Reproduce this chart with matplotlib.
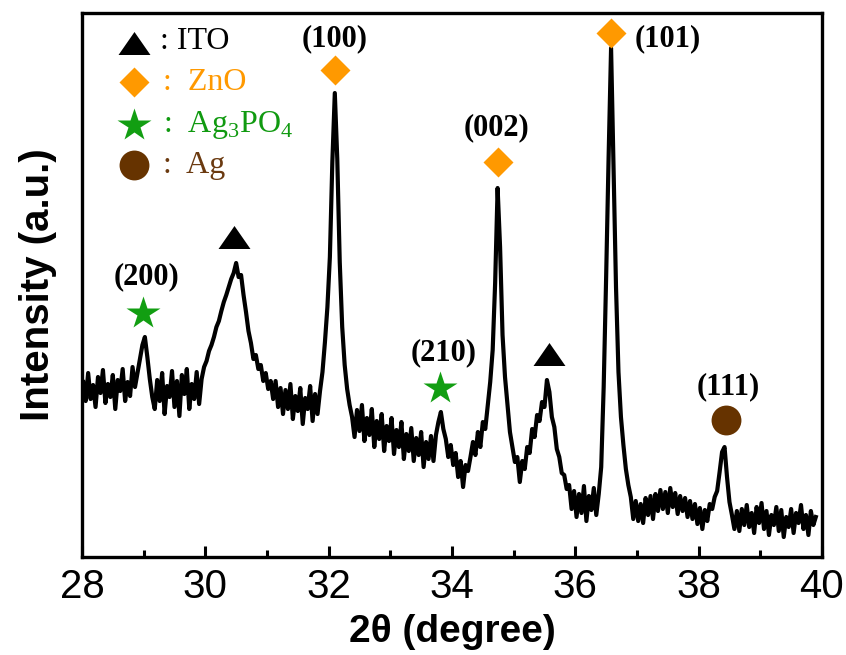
import numpy as np
from matplotlib import pyplot as plt
from matplotlib.ticker import MultipleLocator

"""
    XRD pattern data (read off the figure)
"""
scan_start = 28.02
scan_step = 0.04

intensity = [
    # 28.02 - 28.86
    175, 156, 184, 158, 172, 150, 180, 164, 187, 154, 173, 160, 182, 148, 177, 166, 188, 156, 175, 161, 190, 170,
    # Ag3PO4 (200)
    184, 198, 212, 220, 200, 178, 160,
    # 29.18 - 29.94
    148, 177, 156, 184, 143, 171, 160, 186, 150, 176, 141, 182, 163, 188, 148, 173, 158, 185, 153, 178,
    # ITO ~30.5
    190, 196, 206, 212, 220, 230, 236, 246, 255, 262, 270, 278, 284, 294, 280, 282, 262, 245, 226, 214,
    198, 202, 188, 192, 176, 184, 168, 176,
    # 31.10 - 31.86
    158, 176, 150, 169, 143, 167, 148, 173, 138, 161, 146, 169, 133, 159, 148, 171, 136, 163, 143, 166,
    # ZnO (100)
    185, 215, 250, 300, 395, 464, 398, 295, 230, 192, 168, 152,
    # 32.38 - 33.70
    140, 120, 147, 126, 152, 116, 139, 122, 148, 110, 136, 118, 143, 106, 131, 116, 139, 103, 127, 110,
    135, 98, 123, 106, 129, 96, 119, 102, 125, 90, 115, 98, 121, 96,
    # Ag3PO4 (210), ZnO (002), ITO ~35.5
    122, 135, 145, 128, 118, 100, 112, 92, 104, 80, 96, 70, 92, 86, 100, 115, 102, 125, 110, 135,
    128, 152, 175, 207, 274, 369, 310, 222, 180, 152, 125, 110, 95, 100, 75, 96, 88, 110, 104, 128,
    120, 142, 136, 155, 150, 177, 165, 140, 130, 108, 100, 84, 82, 68, 72,
    # 35.94 - 36.42
    48, 66, 40, 63, 44, 71, 36, 61, 47, 69, 42, 63, 90,
    # ZnO (101)
    170, 280, 400, 509, 390, 270, 185, 140, 112, 88, 72, 60,
    # 36.94 - 38.26
    38, 56, 36, 53, 34, 59, 42, 61, 38, 63, 46, 67, 48, 65, 44, 69, 50, 64, 43, 61,
    46, 59, 40, 56, 38, 53, 33, 49, 28, 47, 36, 53, 48, 60,
    # Ag (111)
    66, 85, 105, 110, 80, 55, 42,
    # 38.58 - 39.90
    28, 46, 26, 48, 32, 52, 30, 44, 24, 50, 34, 54, 28, 46, 22, 42, 32, 50, 26, 47,
    20, 40, 30, 48, 24, 44, 34, 52, 28, 42, 22, 46, 32, 40,
]
two_theta = np.round(scan_start + scan_step * np.arange(len(intensity)), 2)

# phase markers above the peaks: 2theta, height, phase
mark_2theta = [28.99, 30.46, 32.10, 33.80, 34.745, 35.57, 36.58, 38.44]
mark_height = [244, 320, 487, 169, 395, 203, 524, 137]
mark_phase = ['Ag3PO4', 'ITO', 'ZnO', 'Ag3PO4', 'ZnO', 'ITO', 'ZnO', 'Ag']

# Miller indices labels
hkl_text = ['(200)', '(100)', '(210)', '(002)', '(101)', '(111)']
hkl_2theta = [29.04, 32.09, 33.87, 34.73, 37.50, 38.48]
hkl_height = [280, 518, 204, 429, 518, 170]

phase_names = ['ITO', 'ZnO', 'Ag3PO4', 'Ag']
phase_labels = ['ITO', 'ZnO', r'Ag$_{\mathregular{3}}$PO$_{\mathregular{4}}$', 'Ag']
phase_colors = {'ITO': 'black', 'ZnO': '#FF9900', 'Ag3PO4': '#129E12', 'Ag': '#663300'}
text_colors = {'ITO': 'black', 'ZnO': '#FF9900', 'Ag3PO4': '#109A10', 'Ag': '#6B3A10'}
tri = [(-1, -0.72), (1, -0.72), (0, 0.72)]
phase_marker = {'ITO': (tri, 23), 'ZnO': ('D', 15.5), 'Ag3PO4': ('*', 25), 'Ag': ('o', 21.5)}

"""
    Figure
"""
fig = plt.figure(figsize=(8.46, 6.55), dpi=100)
ax = fig.add_axes([0.0969, 0.1496, 0.8747, 0.8305])

ax.plot(two_theta, intensity, color='black', lw=3.0, zorder=2)

for x, h, p in zip(mark_2theta, mark_height, mark_phase):
    m, s = phase_marker[p]
    ax.plot(x, h, marker=m, markersize=s, color=phase_colors[p], mec='none', ls='none', zorder=3)

for t, x, h in zip(hkl_text, hkl_2theta, hkl_height):
    ax.text(x, h, t, family='Liberation Serif', fontweight='bold', fontsize=22,
            ha='center', va='center')

# legend drawn by hand like in the original
leg_y = [514, 475, 432, 392]
for name, lab, y in zip(phase_names, phase_labels, leg_y):
    m, s = phase_marker[name]
    ax.plot(28.84, y, marker=m, markersize=s, color=phase_colors[name], mec='none', ls='none',
            clip_on=False, zorder=3)
    if name == 'ITO':
        ax.text(29.26, y + 2, ': ' + lab, family='Liberation Serif', fontsize=23,
                color=text_colors[name], va='center', ha='left')
    else:
        ax.text(29.32, y, ':  ' + lab, family='Liberation Serif', fontsize=23,
                color=text_colors[name], va='center', ha='left')

ax.set_xlim(28, 40)
ax.set_ylim(0, 544)
ax.set_yticks([])
ax.xaxis.set_major_locator(MultipleLocator(2))
ax.xaxis.set_minor_locator(MultipleLocator(1))
ax.tick_params(axis='x', which='major', direction='in', length=8, width=2.2, pad=8)
ax.tick_params(axis='x', which='minor', direction='in', length=5, width=2.2)
for lab in ax.get_xticklabels():
    lab.set_family('Liberation Sans')
    lab.set_fontsize(29)
for sp in ax.spines.values():
    sp.set_linewidth(2.4)

ax.set_xlabel('2θ (degree)', family='Liberation Sans', fontweight='bold', fontsize=28, labelpad=6)
ax.set_ylabel('Intensity (a.u.)', family='Liberation Sans', fontweight='bold', fontsize=29, labelpad=18)

fig.savefig('out.png', dpi=100)
